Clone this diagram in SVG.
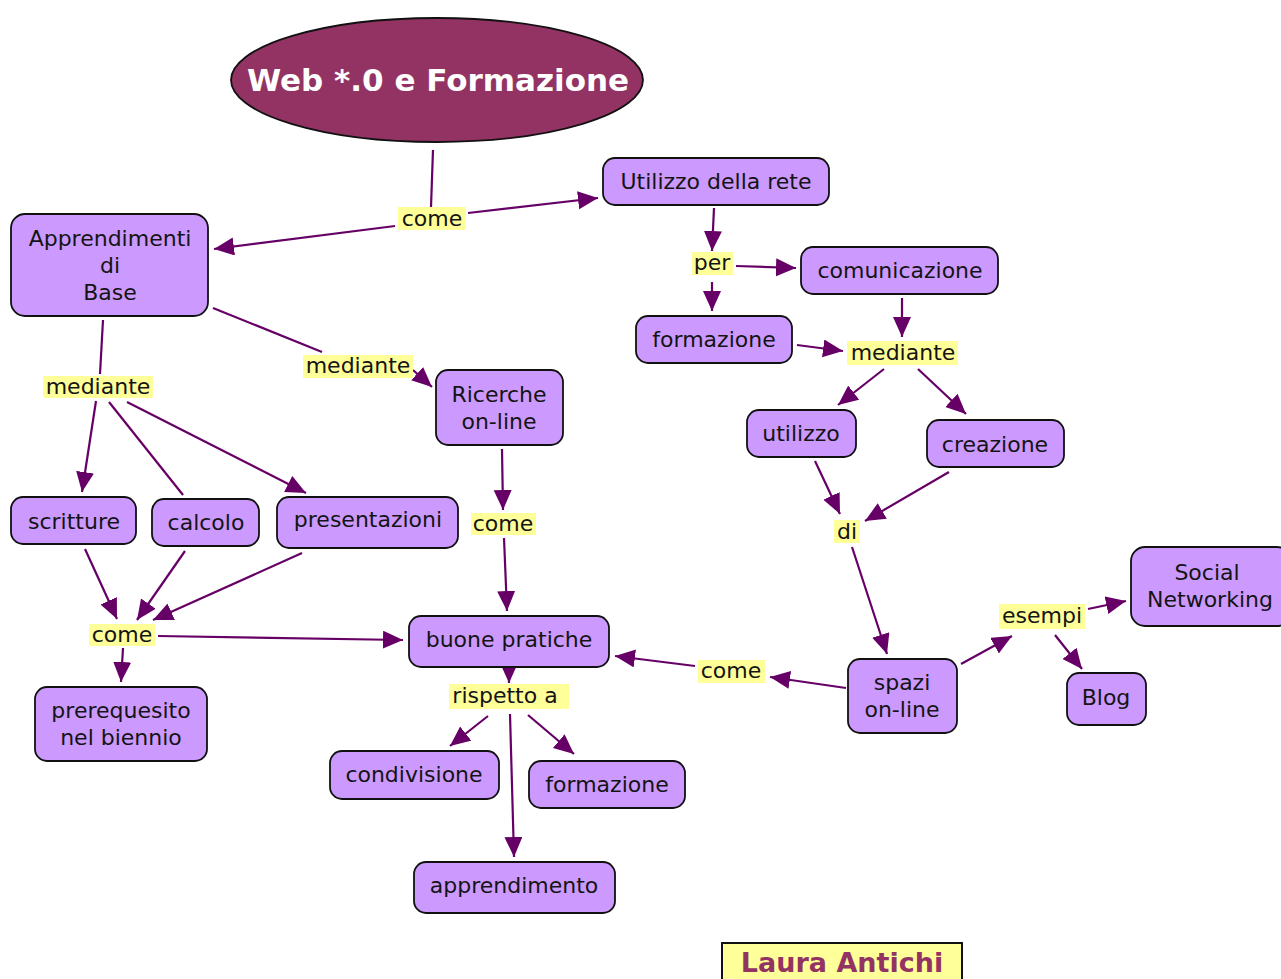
<svg xmlns="http://www.w3.org/2000/svg" width="1281" height="979" viewBox="0 0 1281 979">
<style>
.n rect{fill:#cc99ff;stroke:#111;stroke-width:1.8}
.n text,.l text{font-family:"DejaVu Sans","Verdana",sans-serif;font-size:22px;fill:#141414;text-anchor:middle}
.l rect{fill:#ffff99;stroke:none}
#edges line{stroke:#660066;stroke-width:2.2}
#edges line.a{marker-end:url(#ah)}
</style>
<defs>
<marker id="ah" markerUnits="userSpaceOnUse" markerWidth="22" markerHeight="20" refX="20" refY="9" orient="auto">
<path d="M0,0 L20,9 L0,18 z" fill="#660066"/>
</marker>
</defs>
<rect width="1281" height="979" fill="#fff"/>

<g id="edges">
<line x1="433" y1="150" x2="431" y2="207"/>
<line class="a" x1="395" y1="226" x2="214" y2="249"/>
<line class="a" x1="468" y1="213" x2="598" y2="198"/>
<line class="a" x1="714" y1="208" x2="712" y2="251"/>
<line class="a" x1="736" y1="266" x2="796" y2="268"/>
<line class="a" x1="712" y1="282" x2="712" y2="311"/>
<line class="a" x1="902" y1="298" x2="902" y2="337"/>
<line class="a" x1="797" y1="345" x2="843" y2="351"/>
<line class="a" x1="884" y1="369" x2="838" y2="405"/>
<line class="a" x1="918" y1="369" x2="966" y2="414"/>
<line class="a" x1="815" y1="461" x2="840" y2="514"/>
<line class="a" x1="949" y1="472" x2="865" y2="521"/>
<line class="a" x1="852" y1="547" x2="887" y2="654"/>
<line class="a" x1="961" y1="664" x2="1012" y2="636"/>
<line class="a" x1="1088" y1="609" x2="1126" y2="601"/>
<line class="a" x1="1055" y1="635" x2="1082" y2="669"/>
<line class="a" x1="846" y1="688" x2="770" y2="677"/>
<line class="a" x1="695" y1="666" x2="615" y2="656"/>
<line x1="213" y1="308" x2="322" y2="352"/>
<line class="a" x1="413" y1="370" x2="432" y2="387"/>
<line class="a" x1="502" y1="449" x2="503" y2="510"/>
<line class="a" x1="504" y1="538" x2="507" y2="611"/>
<line x1="103" y1="320" x2="100" y2="374"/>
<line class="a" x1="96" y1="401" x2="82" y2="492"/>
<line x1="109" y1="402" x2="183" y2="495"/>
<line class="a" x1="127" y1="402" x2="306" y2="493"/>
<line class="a" x1="85" y1="549" x2="117" y2="619"/>
<line class="a" x1="185" y1="551" x2="137" y2="620"/>
<line class="a" x1="302" y1="553" x2="153" y2="620"/>
<line class="a" x1="123" y1="648" x2="121" y2="682"/>
<line class="a" x1="158" y1="636" x2="403" y2="640"/>
<line class="a" x1="509" y1="664" x2="509" y2="683"/>
<line class="a" x1="488" y1="716" x2="450" y2="746"/>
<line class="a" x1="528" y1="715" x2="574" y2="754"/>
<line class="a" x1="510" y1="714" x2="514" y2="857"/>
</g>

<g id="title">
<ellipse cx="437" cy="80" rx="206" ry="62" fill="#933363" stroke="#111" stroke-width="1.8"/>
<text x="438" y="91" font-family="DejaVu Sans, Verdana, sans-serif" font-size="31" font-weight="bold" fill="#fff" text-anchor="middle">Web *.0 e Formazione</text>
</g>

<g id="labels">
<g class="l" id="l-come1"><rect x="398" y="207" width="68" height="23"/><text x="432" y="226">come</text></g>
<g class="l" id="l-per"><rect x="692" y="252" width="41" height="23"/><text x="712" y="270">per</text></g>
<g class="l" id="l-mediante-r"><rect x="847" y="341" width="111" height="24"/><text x="903" y="360">mediante</text></g>
<g class="l" id="l-mediante-l"><rect x="43" y="376" width="110" height="22"/><text x="98" y="394">mediante</text></g>
<g class="l" id="l-mediante-m"><rect x="303" y="355" width="110" height="23"/><text x="358" y="373">mediante</text></g>
<g class="l" id="l-come2"><rect x="471" y="513" width="65" height="22"/><text x="503" y="531">come</text></g>
<g class="l" id="l-di"><rect x="834" y="520" width="26" height="23"/><text x="847" y="539">di</text></g>
<g class="l" id="l-come3"><rect x="89" y="624" width="66" height="22"/><text x="122" y="642">come</text></g>
<g class="l" id="l-rispetto"><rect x="449" y="684" width="120" height="25"/><text x="505" y="703">rispetto a</text></g>
<g class="l" id="l-come4"><rect x="698" y="660" width="67" height="23"/><text x="731" y="678">come</text></g>
<g class="l" id="l-esempi"><rect x="999" y="604" width="86" height="25"/><text x="1042" y="623">esempi</text></g>
</g>

<g class="n" id="n-utilizzo-rete"><rect x="603" y="158" width="226" height="47" rx="12"/><text x="716" y="189">Utilizzo della rete</text></g>
<g class="n" id="n-apprendimenti"><rect x="11" y="214" width="197" height="102" rx="14"/><text x="110" y="246">Apprendimenti</text><text x="110" y="273">di</text><text x="110" y="300">Base</text></g>
<g class="n" id="n-comunicazione"><rect x="801" y="247" width="197" height="47" rx="12"/><text x="900" y="278">comunicazione</text></g>
<g class="n" id="n-formazione1"><rect x="636" y="316" width="156" height="47" rx="12"/><text x="714" y="347">formazione</text></g>
<g class="n" id="n-ricerche"><rect x="436" y="370" width="127" height="75" rx="12"/><text x="499" y="402">Ricerche</text><text x="499" y="429">on-line</text></g>
<g class="n" id="n-utilizzo"><rect x="747" y="410" width="109" height="47" rx="12"/><text x="801" y="441">utilizzo</text></g>
<g class="n" id="n-creazione"><rect x="927" y="420" width="137" height="47" rx="12"/><text x="995" y="452">creazione</text></g>
<g class="n" id="n-scritture"><rect x="11" y="497" width="125" height="47" rx="12"/><text x="74" y="529">scritture</text></g>
<g class="n" id="n-calcolo"><rect x="152" y="499" width="107" height="47" rx="12"/><text x="206" y="530">calcolo</text></g>
<g class="n" id="n-presentazioni"><rect x="277" y="497" width="181" height="51" rx="12"/><text x="368" y="527">presentazioni</text></g>
<g class="n" id="n-social"><rect x="1131" y="547" width="160" height="79" rx="14"/><text x="1207" y="580">Social</text><text x="1210" y="607">Networking</text></g>
<g class="n" id="n-buone"><rect x="409" y="616" width="200" height="51" rx="12"/><text x="509" y="647">buone pratiche</text></g>
<g class="n" id="n-spazi"><rect x="848" y="659" width="109" height="74" rx="12"/><text x="902" y="690">spazi</text><text x="902" y="717">on-line</text></g>
<g class="n" id="n-prerequesito"><rect x="35" y="687" width="172" height="74" rx="12"/><text x="121" y="718">prerequesito</text><text x="121" y="745">nel biennio</text></g>
<g class="n" id="n-blog"><rect x="1067" y="673" width="79" height="52" rx="12"/><text x="1106" y="705">Blog</text></g>
<g class="n" id="n-condivisione"><rect x="330" y="751" width="169" height="48" rx="12"/><text x="414" y="782">condivisione</text></g>
<g class="n" id="n-formazione2"><rect x="529" y="761" width="156" height="47" rx="12"/><text x="607" y="792">formazione</text></g>
<g class="n" id="n-apprendimento"><rect x="414" y="862" width="201" height="51" rx="12"/><text x="514" y="893">apprendimento</text></g>

<g id="author">
<rect x="722" y="943" width="240" height="44" fill="#ffff99" stroke="#111" stroke-width="2"/>
<text x="842" y="972" font-family="DejaVu Sans, Verdana, sans-serif" font-size="27" font-weight="bold" fill="#933363" text-anchor="middle">Laura Antichi</text>
</g>
</svg>
